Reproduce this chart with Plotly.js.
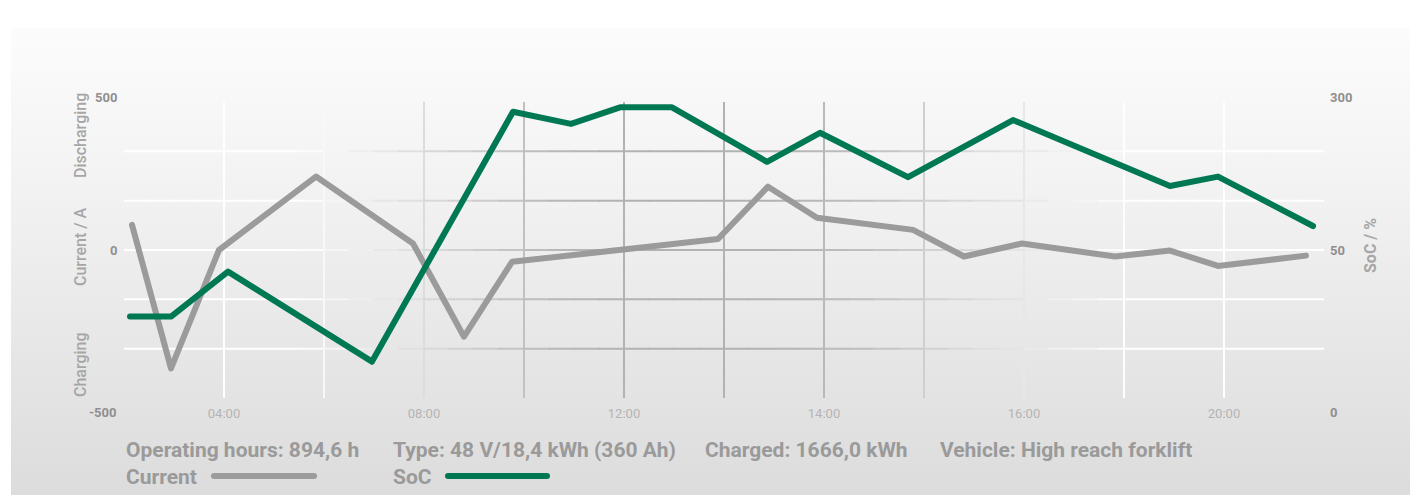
<!DOCTYPE html>
<html>
<head>
<meta charset="utf-8">
<script src="https://cdn.plot.ly/plotly-3.0.1.min.js"></script>
<style>
  html, body { margin: 0; padding: 0; background: #ffffff; }
  #bg { position: absolute; left: 11px; top: 28px; width: 1399px; height: 467px;
        background: linear-gradient(to bottom, #fcfcfc 0%, #f2f2f2 35%, #dcdcdc 100%); }
  #chart { position: absolute; left: 0; top: 0; width: 1410px; height: 495px; }
  .scatterlayer path.js-line { stroke-linecap: round; stroke-linejoin: round; }
  .shapelayer path { stroke-linecap: round; }
</style>
</head>
<body>
<div id="bg"></div>
<div id="chart"></div>
<script>
// ---- data ----
const timeTickLabels = ['04:00', '', '08:00', '', '12:00', '', '14:00', '', '16:00', '', '20:00'];
const currentX = [0.08, 0.47, 0.95, 1.92, 2.89, 3.40, 3.88, 5.94, 6.44, 6.93, 7.89, 8.40, 8.98, 9.91, 10.46, 10.94, 11.82];
const currentY = [85, -400, 0, 248, 22, -293, -40, 37, 214, 109, 68, -22, 22, -22, -2, -54, -19];
const socX = [0.06, 0.47, 1.04, 2.48, 3.89, 4.47, 4.96, 5.48, 6.43, 6.96, 7.84, 8.89, 10.46, 10.94, 11.89];
const socY = [27.5, 27.5, 42.7, 12.3, 96.7, 92.6, 98.2, 98.2, 79.8, 89.6, 74.6, 93.9, 71.6, 74.8, 58.1];
const leftTickVals = [-500, 0, 500];
const leftTickText = ['-500', '0', '500'];
const rightTickVals = [0, 50, 100];
const rightTickText = ['0', '50', '300'];
const infoTexts = ['Operating hours: 894,6 h', 'Type: 48 V/18,4 kWh (360 Ah)', 'Charged: 1666,0 kWh', 'Vehicle: High reach forklift'];
const seriesNames = ['Current', 'SoC'];

// ---- layout helpers ----
const L = 124, R = 1324, T = 102, B = 398;
const px2x = px => (px - L) / (R - L);
const py2y = py => (B - py) / (B - T);
const GREY = '#9a9b9a', GREEN = '#007853';
const FONT = 'Roboto, "Liberation Sans Narrow", sans-serif';

// grey intensity of gridlines depending on horizontal pixel position
const fPts = [[0,0],[300,0],[450,0.55],[550,0.9],[620,1],[760,1],[860,0.85],[960,0.5],[1060,0.2],[1130,0],[2000,0]];
function fAt(px) {
  for (let i = 0; i < fPts.length - 1; i++) {
    const [a, fa] = fPts[i], [b, fb] = fPts[i + 1];
    if (px >= a && px <= b) return fa + (fb - fa) * (px - a) / (b - a);
  }
  return 0;
}
function gridColor(px) {
  const f = fAt(px);
  const c = Math.round(255 - (255 - 178) * f);
  return `rgb(${c},${c},${c})`;
}

const shapes = [];
const xTickVals = timeTickLabels.map((_, i) => i + 1);
// vertical gridlines
xTickVals.forEach(v => {
  const px = L + v * 100;
  shapes.push({type: 'line', layer: 'below', xref: 'x', yref: 'y', x0: v, x1: v, y0: -500, y1: 500,
               line: {color: gridColor(px), width: 2}});
});
// horizontal gridlines (segmented to imitate the fading colour)
const hVals = [-1000/3, -500/3, 0, 500/3, 1000/3];
hVals.forEach(yv => {
  const seg = 0.25;
  for (let x = 0; x < 12 - 1e-9; x += seg) {
    const px = L + (x + seg / 2) * 100;
    shapes.push({type: 'line', layer: 'below', xref: 'x', yref: 'y', x0: x, x1: x + seg, y0: yv, y1: yv,
                 line: {color: gridColor(px), width: 2}});
  }
});
// legend line samples
shapes.push({type: 'line', xref: 'paper', yref: 'paper', x0: px2x(214), x1: px2x(314), y0: py2y(476), y1: py2y(476),
             line: {color: GREY, width: 6}});
shapes.push({type: 'line', xref: 'paper', yref: 'paper', x0: px2x(448), x1: px2x(547), y0: py2y(476), y1: py2y(476),
             line: {color: GREEN, width: 6}});

const annotations = [];
// y tick labels (left)
leftTickVals.forEach((v, i) => {
  const shift = v === 500 ? 5 : (v === -500 ? -14 : 0);
  annotations.push({xref: 'paper', yref: 'y', x: px2x(119), y: v, yshift: shift, text: leftTickText[i],
    showarrow: false, xanchor: 'right', yanchor: 'middle',
    font: {family: FONT, size: 13, color: '#8f8f8f', weight: 'bold'}});
});
// right tick labels
rightTickVals.forEach((v, i) => {
  const shift = v === 100 ? 5 : (v === 0 ? -14 : 0);
  annotations.push({xref: 'paper', yref: 'y2', x: px2x(1328), y: v, yshift: shift, text: rightTickText[i],
    showarrow: false, xanchor: 'left', yanchor: 'middle',
    font: {family: FONT, size: 13, color: '#8f8f8f', weight: 'bold'}});
});
// axis titles
const titleFont = {family: FONT, size: 16, color: '#a6a6a6', weight: 500};
[['Discharging', 136], ['Current / A', 247], ['Charging', 365]].forEach(([t, py]) => {
  annotations.push({xref: 'paper', yref: 'paper', x: px2x(80), y: py2y(py), text: t, textangle: -90,
    showarrow: false, xanchor: 'center', yanchor: 'middle', font: titleFont});
});
annotations.push({xref: 'paper', yref: 'paper', x: px2x(1370), y: py2y(246), text: 'SoC / %', textangle: -90,
  showarrow: false, xanchor: 'center', yanchor: 'middle', font: {family: FONT, size: 16, color: '#a6a6a6', weight: 'bold'}});
// info line
const infoFont = {family: FONT, size: 21, color: '#9a9a9a', weight: 'bold'};
[124, 391, 703, 938].forEach((px, i) => {
  annotations.push({xref: 'paper', yref: 'paper', x: px2x(px), y: py2y(450), text: infoTexts[i],
    showarrow: false, xanchor: 'left', yanchor: 'middle', font: infoFont});
});
// legend labels
[[124, 0], [391, 1]].forEach(([px, i]) => {
  annotations.push({xref: 'paper', yref: 'paper', x: px2x(px), y: py2y(477), text: seriesNames[i],
    showarrow: false, xanchor: 'left', yanchor: 'middle', font: infoFont});
});

const traces = [
  {x: currentX, y: currentY, name: seriesNames[0], type: 'scatter', mode: 'lines', yaxis: 'y',
   line: {color: GREY, width: 6}, hoverinfo: 'skip'},
  {x: socX, y: socY, name: seriesNames[1], type: 'scatter', mode: 'lines', yaxis: 'y2',
   line: {color: GREEN, width: 6}, hoverinfo: 'skip'}
];

const layout = {
  width: 1410, height: 495,
  margin: {l: L, r: 1410 - R, t: T, b: 495 - B, pad: 0},
  paper_bgcolor: 'rgba(0,0,0,0)', plot_bgcolor: 'rgba(0,0,0,0)',
  showlegend: false,
  xaxis: {range: [0, 12], tickmode: 'array', tickvals: xTickVals, ticktext: timeTickLabels,
          showgrid: false, zeroline: false, showline: false, ticks: '',
          tickfont: {family: FONT, size: 13, color: '#b4b4b4'}, ticklabelstandoff: 6},
  yaxis: {range: [-500, 500], showgrid: false, zeroline: false, showline: false, ticks: '',
          showticklabels: false, tickvals: leftTickVals},
  yaxis2: {range: [0, 100], overlaying: 'y', side: 'right', showgrid: false, zeroline: false,
           showline: false, ticks: '', showticklabels: false, tickvals: rightTickVals},
  shapes: shapes,
  annotations: annotations
};

Plotly.newPlot('chart', traces, layout, {displayModeBar: false, staticPlot: true});
</script>
</body>
</html>
